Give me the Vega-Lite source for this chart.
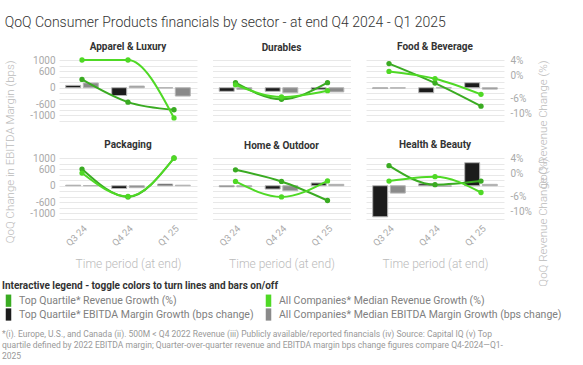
{
  "$schema": "https://vega.github.io/schema/vega-lite/v6.json",
  "padding": {"left": 2, "top": 16, "right": 0, "bottom": 0},
  "background": "white",
  "datasets": {
    "d": [
      {"sector": "Apparel & Luxury", "kind": "line", "series": "Top Quartile* Revenue Growth (%)", "period": "Q3 24", "value": -1.1},
      {"sector": "Apparel & Luxury", "kind": "line", "series": "Top Quartile* Revenue Growth (%)", "period": "Q4 24", "value": -7.05},
      {"sector": "Apparel & Luxury", "kind": "line", "series": "Top Quartile* Revenue Growth (%)", "period": "Q1 25", "value": -9.05},
      {"sector": "Apparel & Luxury", "kind": "line", "series": "All Companies* Median Revenue Growth (%)", "period": "Q3 24", "value": 4},
      {"sector": "Apparel & Luxury", "kind": "line", "series": "All Companies* Median Revenue Growth (%)", "period": "Q4 24", "value": 4},
      {"sector": "Apparel & Luxury", "kind": "line", "series": "All Companies* Median Revenue Growth (%)", "period": "Q1 25", "value": -11.2},
      {"sector": "Apparel & Luxury", "kind": "bar", "series": "Top Quartile* EBITDA Margin Growth (bps change)", "period": "Q3 24", "value": 85},
      {"sector": "Apparel & Luxury", "kind": "bar", "series": "Top Quartile* EBITDA Margin Growth (bps change)", "period": "Q4 24", "value": -280},
      {"sector": "Apparel & Luxury", "kind": "bar", "series": "Top Quartile* EBITDA Margin Growth (bps change)", "period": "Q1 25", "value": -10},
      {"sector": "Apparel & Luxury", "kind": "bar", "series": "All Companies* Median EBITDA Margin Growth (bps change)", "period": "Q3 24", "value": 170},
      {"sector": "Apparel & Luxury", "kind": "bar", "series": "All Companies* Median EBITDA Margin Growth (bps change)", "period": "Q4 24", "value": 60},
      {"sector": "Apparel & Luxury", "kind": "bar", "series": "All Companies* Median EBITDA Margin Growth (bps change)", "period": "Q1 25", "value": -300},

      {"sector": "Durables", "kind": "line", "series": "Top Quartile* Revenue Growth (%)", "period": "Q3 24", "value": -1.95},
      {"sector": "Durables", "kind": "line", "series": "Top Quartile* Revenue Growth (%)", "period": "Q4 24", "value": -6.3},
      {"sector": "Durables", "kind": "line", "series": "Top Quartile* Revenue Growth (%)", "period": "Q1 25", "value": -1.95},
      {"sector": "Durables", "kind": "line", "series": "All Companies* Median Revenue Growth (%)", "period": "Q3 24", "value": -2.5},
      {"sector": "Durables", "kind": "line", "series": "All Companies* Median Revenue Growth (%)", "period": "Q4 24", "value": -5.7},
      {"sector": "Durables", "kind": "line", "series": "All Companies* Median Revenue Growth (%)", "period": "Q1 25", "value": -4.05},
      {"sector": "Durables", "kind": "bar", "series": "Top Quartile* EBITDA Margin Growth (bps change)", "period": "Q3 24", "value": -130},
      {"sector": "Durables", "kind": "bar", "series": "Top Quartile* EBITDA Margin Growth (bps change)", "period": "Q4 24", "value": -130},
      {"sector": "Durables", "kind": "bar", "series": "Top Quartile* EBITDA Margin Growth (bps change)", "period": "Q1 25", "value": -70},
      {"sector": "Durables", "kind": "bar", "series": "All Companies* Median EBITDA Margin Growth (bps change)", "period": "Q3 24", "value": -60},
      {"sector": "Durables", "kind": "bar", "series": "All Companies* Median EBITDA Margin Growth (bps change)", "period": "Q4 24", "value": -180},
      {"sector": "Durables", "kind": "bar", "series": "All Companies* Median EBITDA Margin Growth (bps change)", "period": "Q1 25", "value": -150},

      {"sector": "Food & Beverage", "kind": "line", "series": "Top Quartile* Revenue Growth (%)", "period": "Q3 24", "value": 3.05},
      {"sector": "Food & Beverage", "kind": "line", "series": "Top Quartile* Revenue Growth (%)", "period": "Q4 24", "value": -2.05},
      {"sector": "Food & Beverage", "kind": "line", "series": "Top Quartile* Revenue Growth (%)", "period": "Q1 25", "value": -8.1},
      {"sector": "Food & Beverage", "kind": "line", "series": "All Companies* Median Revenue Growth (%)", "period": "Q3 24", "value": 1.0},
      {"sector": "Food & Beverage", "kind": "line", "series": "All Companies* Median Revenue Growth (%)", "period": "Q4 24", "value": -0.9},
      {"sector": "Food & Beverage", "kind": "line", "series": "All Companies* Median Revenue Growth (%)", "period": "Q1 25", "value": -5.0},
      {"sector": "Food & Beverage", "kind": "bar", "series": "Top Quartile* EBITDA Margin Growth (bps change)", "period": "Q3 24", "value": -30},
      {"sector": "Food & Beverage", "kind": "bar", "series": "Top Quartile* EBITDA Margin Growth (bps change)", "period": "Q4 24", "value": -180},
      {"sector": "Food & Beverage", "kind": "bar", "series": "Top Quartile* EBITDA Margin Growth (bps change)", "period": "Q1 25", "value": 180},
      {"sector": "Food & Beverage", "kind": "bar", "series": "All Companies* Median EBITDA Margin Growth (bps change)", "period": "Q3 24", "value": -15},
      {"sector": "Food & Beverage", "kind": "bar", "series": "All Companies* Median EBITDA Margin Growth (bps change)", "period": "Q4 24", "value": -10},
      {"sector": "Food & Beverage", "kind": "bar", "series": "All Companies* Median EBITDA Margin Growth (bps change)", "period": "Q1 25", "value": -50},

      {"sector": "Packaging", "kind": "line", "series": "Top Quartile* Revenue Growth (%)", "period": "Q3 24", "value": 1.1},
      {"sector": "Packaging", "kind": "line", "series": "Top Quartile* Revenue Growth (%)", "period": "Q4 24", "value": -6.2},
      {"sector": "Packaging", "kind": "line", "series": "Top Quartile* Revenue Growth (%)", "period": "Q1 25", "value": 4},
      {"sector": "Packaging", "kind": "line", "series": "All Companies* Median Revenue Growth (%)", "period": "Q3 24", "value": 0.05},
      {"sector": "Packaging", "kind": "line", "series": "All Companies* Median Revenue Growth (%)", "period": "Q4 24", "value": -6.1},
      {"sector": "Packaging", "kind": "line", "series": "All Companies* Median Revenue Growth (%)", "period": "Q1 25", "value": 3.95},
      {"sector": "Packaging", "kind": "bar", "series": "Top Quartile* EBITDA Margin Growth (bps change)", "period": "Q3 24", "value": 20},
      {"sector": "Packaging", "kind": "bar", "series": "Top Quartile* EBITDA Margin Growth (bps change)", "period": "Q4 24", "value": -100},
      {"sector": "Packaging", "kind": "bar", "series": "Top Quartile* EBITDA Margin Growth (bps change)", "period": "Q1 25", "value": 60},
      {"sector": "Packaging", "kind": "bar", "series": "All Companies* Median EBITDA Margin Growth (bps change)", "period": "Q3 24", "value": 5},
      {"sector": "Packaging", "kind": "bar", "series": "All Companies* Median EBITDA Margin Growth (bps change)", "period": "Q4 24", "value": -70},
      {"sector": "Packaging", "kind": "bar", "series": "All Companies* Median EBITDA Margin Growth (bps change)", "period": "Q1 25", "value": 20},

      {"sector": "Home & Outdoor", "kind": "line", "series": "Top Quartile* Revenue Growth (%)", "period": "Q3 24", "value": 0.9},
      {"sector": "Home & Outdoor", "kind": "line", "series": "Top Quartile* Revenue Growth (%)", "period": "Q4 24", "value": -2.15},
      {"sector": "Home & Outdoor", "kind": "line", "series": "Top Quartile* Revenue Growth (%)", "period": "Q1 25", "value": -7.15},
      {"sector": "Home & Outdoor", "kind": "line", "series": "All Companies* Median Revenue Growth (%)", "period": "Q3 24", "value": -2.15},
      {"sector": "Home & Outdoor", "kind": "line", "series": "All Companies* Median Revenue Growth (%)", "period": "Q4 24", "value": -6.2},
      {"sector": "Home & Outdoor", "kind": "line", "series": "All Companies* Median Revenue Growth (%)", "period": "Q1 25", "value": -2.0},
      {"sector": "Home & Outdoor", "kind": "bar", "series": "Top Quartile* EBITDA Margin Growth (bps change)", "period": "Q3 24", "value": -40},
      {"sector": "Home & Outdoor", "kind": "bar", "series": "Top Quartile* EBITDA Margin Growth (bps change)", "period": "Q4 24", "value": -120},
      {"sector": "Home & Outdoor", "kind": "bar", "series": "Top Quartile* EBITDA Margin Growth (bps change)", "period": "Q1 25", "value": 100},
      {"sector": "Home & Outdoor", "kind": "bar", "series": "All Companies* Median EBITDA Margin Growth (bps change)", "period": "Q3 24", "value": -40},
      {"sector": "Home & Outdoor", "kind": "bar", "series": "All Companies* Median EBITDA Margin Growth (bps change)", "period": "Q4 24", "value": -180},
      {"sector": "Home & Outdoor", "kind": "bar", "series": "All Companies* Median EBITDA Margin Growth (bps change)", "period": "Q1 25", "value": 50},

      {"sector": "Health & Beauty", "kind": "line", "series": "Top Quartile* Revenue Growth (%)", "period": "Q3 24", "value": 2.0},
      {"sector": "Health & Beauty", "kind": "line", "series": "Top Quartile* Revenue Growth (%)", "period": "Q4 24", "value": -3.0},
      {"sector": "Health & Beauty", "kind": "line", "series": "Top Quartile* Revenue Growth (%)", "period": "Q1 25", "value": -2.05},
      {"sector": "Health & Beauty", "kind": "line", "series": "All Companies* Median Revenue Growth (%)", "period": "Q3 24", "value": -2.05},
      {"sector": "Health & Beauty", "kind": "line", "series": "All Companies* Median Revenue Growth (%)", "period": "Q4 24", "value": -0.9},
      {"sector": "Health & Beauty", "kind": "line", "series": "All Companies* Median Revenue Growth (%)", "period": "Q1 25", "value": -5.05},
      {"sector": "Health & Beauty", "kind": "bar", "series": "Top Quartile* EBITDA Margin Growth (bps change)", "period": "Q3 24", "value": -1120},
      {"sector": "Health & Beauty", "kind": "bar", "series": "Top Quartile* EBITDA Margin Growth (bps change)", "period": "Q4 24", "value": 70},
      {"sector": "Health & Beauty", "kind": "bar", "series": "Top Quartile* EBITDA Margin Growth (bps change)", "period": "Q1 25", "value": 830},
      {"sector": "Health & Beauty", "kind": "bar", "series": "All Companies* Median EBITDA Margin Growth (bps change)", "period": "Q3 24", "value": -265},
      {"sector": "Health & Beauty", "kind": "bar", "series": "All Companies* Median EBITDA Margin Growth (bps change)", "period": "Q4 24", "value": -25},
      {"sector": "Health & Beauty", "kind": "bar", "series": "All Companies* Median EBITDA Margin Growth (bps change)", "period": "Q1 25", "value": 50}
    ]
  },
  "data": {"name": "d"},
  "title": {
    "text": [
      "*(i). Europe, U.S., and Canada (ii). 500M < Q4 2022 Revenue (iii) Publicly available/reported financials (iv) Source: Capital IQ (v) Top",
      "quartile defined by 2022 EBITDA margin; Quarter-over-quarter revenue and EBITDA margin bps change figures compare Q4-2024\u2014Q1-",
      "2025"
    ],
    "orient": "bottom", "anchor": "start", "frame": "bounds",
    "fontSize": 8.5, "fontWeight": "normal", "color": "#999", "lineHeight": 11, "offset": 9, "font": "Roboto"
  },
  "vconcat": [
    {
      "title": {"text": "QoQ Consumer Products financials by sector - at end Q4 2024 - Q1 2025", "anchor": "start", "frame": "bounds", "fontSize": 14, "fontWeight": 300, "color": "#333", "offset": 12, "font": "Roboto"},
      "columns": 3,
      "bounds": "flush",
      "spacing": {"row": 37, "column": 15.5},
      "concat": [
        {
          "title": {"text": "Apparel & Luxury", "offset": 3},
          "width": 138, "height": 61,
          "transform": [{"filter": {"field": "sector", "equal": "Apparel & Luxury"}}],
          "encoding": {"x": {"field": "period", "type": "nominal", "sort": ["Q3 24", "Q4 24", "Q1 25"], "scale": {"paddingInner": 0, "paddingOuter": 0}, "axis": null}},
          "layer": [
            {"transform": [{"filter": {"field": "kind", "equal": "bar"}}],
             "mark": {"type": "bar", "stroke": "#b5b5b5", "strokeWidth": 1},
             "encoding": {
               "xOffset": {"field": "series", "sort": ["Top Quartile* EBITDA Margin Growth (bps change)", "All Companies* Median EBITDA Margin Growth (bps change)"], "scale": {"paddingInner": 0.15, "paddingOuter": 0.38}},
               "y": {"field": "value", "type": "quantitative", "scale": {"domain": [-1200, 1000], "nice": false}, "axis": {"values": [-1200, -1000, -800, -600, -400, -200, 0, 200, 400, 600, 800, 1000], "labelExpr": "indexof([1000,600,0,-600,-1000], datum.value) >= 0 ? '' + datum.value : ''", "labelOverlap": false, "title": "QoQ Change in EBITDA Margin (bps)", "titlePadding": 14, "titleAnchor": "end"}},
               "color": {"field": "series", "type": "nominal",
                 "scale": {"domain": ["Top Quartile* Revenue Growth (%)", "All Companies* Median Revenue Growth (%)", "Top Quartile* EBITDA Margin Growth (bps change)", "All Companies* Median EBITDA Margin Growth (bps change)"], "range": ["#3aab22", "#4fd925", "#1c1c1c", "#8a8a8a"]},
                 "legend": {"title": "Interactive legend - toggle colors to turn lines and bars on/off", "orient": "none", "legendX": -57, "legendY": 221, "columns": 2, "direction": "horizontal",
                   "symbolType": "M-0.45,-1H0.45V1H-0.45Z", "symbolSize": 150,
                   "encode": {"symbols": {"update": {"fill": {"scale": "color", "field": "value"}, "stroke": {"value": "transparent"}, "opacity": {"value": 1}}}}}}
             }},
            {"transform": [{"filter": {"field": "kind", "equal": "line"}}],
             "mark": {"type": "line", "interpolate": "monotone", "strokeWidth": 2, "point": {"filled": true, "size": 28}},
             "encoding": {
               "y": {"field": "value", "type": "quantitative", "scale": {"domain": [-12, 4], "nice": false}, "axis": null},
               "color": {"field": "series", "type": "nominal"}
             }}
          ],
          "resolve": {"scale": {"y": "independent"}}
        },
        {
          "title": {"text": "Durables", "offset": 7},
          "width": 138, "height": 61,
          "transform": [{"filter": {"field": "sector", "equal": "Durables"}}],
          "encoding": {"x": {"field": "period", "type": "nominal", "sort": ["Q3 24", "Q4 24", "Q1 25"], "scale": {"paddingInner": 0, "paddingOuter": 0}, "axis": null}},
          "layer": [
            {"transform": [{"filter": {"field": "kind", "equal": "bar"}}],
             "mark": {"type": "bar", "stroke": "#b5b5b5", "strokeWidth": 1},
             "encoding": {
               "xOffset": {"field": "series", "sort": ["Top Quartile* EBITDA Margin Growth (bps change)", "All Companies* Median EBITDA Margin Growth (bps change)"], "scale": {"paddingInner": 0.15, "paddingOuter": 0.38}},
               "y": {"field": "value", "type": "quantitative", "scale": {"domain": [-1200, 1000], "nice": false}, "axis": {"values": [-1200, -1000, -800, -600, -400, -200, 0, 200, 400, 600, 800, 1000], "labels": false, "title": null}},
               "color": {"field": "series", "type": "nominal"}
             }},
            {"transform": [{"filter": {"field": "kind", "equal": "line"}}],
             "mark": {"type": "line", "interpolate": "monotone", "strokeWidth": 2, "point": {"filled": true, "size": 28}},
             "encoding": {
               "y": {"field": "value", "type": "quantitative", "scale": {"domain": [-12, 4], "nice": false}, "axis": null},
               "color": {"field": "series", "type": "nominal"}
             }}
          ],
          "resolve": {"scale": {"y": "independent"}}
        },
        {
          "title": {"text": "Food & Beverage", "offset": 3},
          "width": 138, "height": 61,
          "transform": [{"filter": {"field": "sector", "equal": "Food & Beverage"}}],
          "encoding": {"x": {"field": "period", "type": "nominal", "sort": ["Q3 24", "Q4 24", "Q1 25"], "scale": {"paddingInner": 0, "paddingOuter": 0}, "axis": null}},
          "layer": [
            {"transform": [{"filter": {"field": "kind", "equal": "bar"}}],
             "mark": {"type": "bar", "stroke": "#b5b5b5", "strokeWidth": 1},
             "encoding": {
               "xOffset": {"field": "series", "sort": ["Top Quartile* EBITDA Margin Growth (bps change)", "All Companies* Median EBITDA Margin Growth (bps change)"], "scale": {"paddingInner": 0.15, "paddingOuter": 0.38}},
               "y": {"field": "value", "type": "quantitative", "scale": {"domain": [-1200, 1000], "nice": false}, "axis": {"values": [-1200, -1000, -800, -600, -400, -200, 0, 200, 400, 600, 800, 1000], "labels": false, "title": null}},
               "color": {"field": "series", "type": "nominal"}
             }},
            {"transform": [{"filter": {"field": "kind", "equal": "line"}}],
             "mark": {"type": "line", "interpolate": "monotone", "strokeWidth": 2, "point": {"filled": true, "size": 28}},
             "encoding": {
               "y": {"field": "value", "type": "quantitative", "scale": {"domain": [-12, 4], "nice": false}, "axis": {"values": [4, 0, -6, -10], "labelExpr": "datum.value + '%'", "grid": false, "title": "QoQ Revenue Change (%)", "titleAngle": 270, "titleBaseline": "top", "titlePadding": 6, "labelPadding": 6, "titleAnchor": "end"}},
               "color": {"field": "series", "type": "nominal"}
             }}
          ],
          "resolve": {"scale": {"y": "independent"}}
        },
        {
          "title": {"text": "Packaging", "offset": 3},
          "width": 138, "height": 61,
          "transform": [{"filter": {"field": "sector", "equal": "Packaging"}}],
          "encoding": {"x": {"field": "period", "type": "nominal", "sort": ["Q3 24", "Q4 24", "Q1 25"], "scale": {"paddingInner": 0, "paddingOuter": 0}, "axis": {"labelAngle": -45, "title": "Time period (at end)", "grid": false}}},
          "layer": [
            {"transform": [{"filter": {"field": "kind", "equal": "bar"}}],
             "mark": {"type": "bar", "stroke": "#b5b5b5", "strokeWidth": 1},
             "encoding": {
               "xOffset": {"field": "series", "sort": ["Top Quartile* EBITDA Margin Growth (bps change)", "All Companies* Median EBITDA Margin Growth (bps change)"], "scale": {"paddingInner": 0.15, "paddingOuter": 0.38}},
               "y": {"field": "value", "type": "quantitative", "scale": {"domain": [-1200, 1000], "nice": false}, "axis": {"values": [-1200, -1000, -800, -600, -400, -200, 0, 200, 400, 600, 800, 1000], "labelExpr": "indexof([1000,600,0,-600,-1000], datum.value) >= 0 ? '' + datum.value : ''", "labelOverlap": false, "title": null}},
               "color": {"field": "series", "type": "nominal"}
             }},
            {"transform": [{"filter": {"field": "kind", "equal": "line"}}],
             "mark": {"type": "line", "interpolate": "monotone", "strokeWidth": 2, "point": {"filled": true, "size": 28}},
             "encoding": {
               "y": {"field": "value", "type": "quantitative", "scale": {"domain": [-12, 4], "nice": false}, "axis": null},
               "color": {"field": "series", "type": "nominal"}
             }}
          ],
          "resolve": {"scale": {"y": "independent"}}
        },
        {
          "title": {"text": "Home & Outdoor", "offset": 7},
          "width": 138, "height": 61,
          "transform": [{"filter": {"field": "sector", "equal": "Home & Outdoor"}}],
          "encoding": {"x": {"field": "period", "type": "nominal", "sort": ["Q3 24", "Q4 24", "Q1 25"], "scale": {"paddingInner": 0, "paddingOuter": 0}, "axis": {"labelAngle": -45, "title": "Time period (at end)", "grid": false}}},
          "layer": [
            {"transform": [{"filter": {"field": "kind", "equal": "bar"}}],
             "mark": {"type": "bar", "stroke": "#b5b5b5", "strokeWidth": 1},
             "encoding": {
               "xOffset": {"field": "series", "sort": ["Top Quartile* EBITDA Margin Growth (bps change)", "All Companies* Median EBITDA Margin Growth (bps change)"], "scale": {"paddingInner": 0.15, "paddingOuter": 0.38}},
               "y": {"field": "value", "type": "quantitative", "scale": {"domain": [-1200, 1000], "nice": false}, "axis": {"values": [-1200, -1000, -800, -600, -400, -200, 0, 200, 400, 600, 800, 1000], "labels": false, "title": null}},
               "color": {"field": "series", "type": "nominal"}
             }},
            {"transform": [{"filter": {"field": "kind", "equal": "line"}}],
             "mark": {"type": "line", "interpolate": "monotone", "strokeWidth": 2, "point": {"filled": true, "size": 28}},
             "encoding": {
               "y": {"field": "value", "type": "quantitative", "scale": {"domain": [-12, 4], "nice": false}, "axis": null},
               "color": {"field": "series", "type": "nominal"}
             }}
          ],
          "resolve": {"scale": {"y": "independent"}}
        },
        {
          "title": {"text": "Health & Beauty", "offset": 3},
          "width": 138, "height": 61,
          "transform": [{"filter": {"field": "sector", "equal": "Health & Beauty"}}],
          "encoding": {"x": {"field": "period", "type": "nominal", "sort": ["Q3 24", "Q4 24", "Q1 25"], "scale": {"paddingInner": 0, "paddingOuter": 0}, "axis": {"labelAngle": -45, "title": "Time period (at end)", "grid": false}}},
          "layer": [
            {"transform": [{"filter": {"field": "kind", "equal": "bar"}}],
             "mark": {"type": "bar", "stroke": "#b5b5b5", "strokeWidth": 1},
             "encoding": {
               "xOffset": {"field": "series", "sort": ["Top Quartile* EBITDA Margin Growth (bps change)", "All Companies* Median EBITDA Margin Growth (bps change)"], "scale": {"paddingInner": 0.15, "paddingOuter": 0.38}},
               "y": {"field": "value", "type": "quantitative", "scale": {"domain": [-1200, 1000], "nice": false}, "axis": {"values": [-1200, -1000, -800, -600, -400, -200, 0, 200, 400, 600, 800, 1000], "labels": false, "title": null}},
               "color": {"field": "series", "type": "nominal"}
             }},
            {"transform": [{"filter": {"field": "kind", "equal": "line"}}],
             "mark": {"type": "line", "interpolate": "monotone", "strokeWidth": 2, "point": {"filled": true, "size": 28}},
             "encoding": {
               "y": {"field": "value", "type": "quantitative", "scale": {"domain": [-12, 4], "nice": false}, "axis": {"values": [4, 0, -6, -10], "labelExpr": "datum.value + '%'", "grid": false, "title": "QoQ Revenue Change (%)", "titleAngle": 270, "titleBaseline": "top", "titlePadding": 6, "labelPadding": 6, "titleAnchor": "end"}},
               "color": {"field": "series", "type": "nominal"}
             }}
          ],
          "resolve": {"scale": {"y": "independent"}}
        }
      ]
    }
  ],
  "config": {
    "font": "Roboto",
    "view": {"stroke": null},
    "title": {"fontSize": 10, "fontWeight": "bold", "color": "#333", "font": "Roboto"},
    "axis": {"domain": false, "ticks": false, "labelColor": "#aaa", "labelFontSize": 10, "labelFont": "Roboto", "labelPadding": 4, "gridColor": "#e8e8e8", "gridWidth": 1, "titleColor": "#bbb", "titleFontSize": 11.5, "titleFontWeight": 300, "titleFont": "Roboto"},
    "axisX": {"labelFontSize": 9.5, "titleFontSize": 12, "titlePadding": 11},
    "legend": {
      "symbolStrokeWidth": 0,
      "labelFontSize": 10.5, "labelColor": "#808080", "labelFont": "Roboto", "labelLimit": 400,
      "titleFontSize": 10, "titleColor": "#333", "titleFontWeight": "bold", "titleFont": "Roboto", "titleLimit": 600,
      "columnPadding": 8, "rowPadding": 1, "titlePadding": 3
    }
  }
}
